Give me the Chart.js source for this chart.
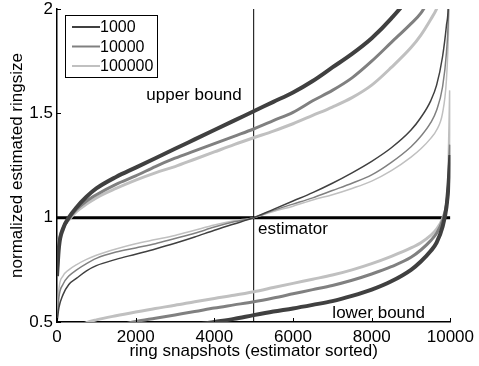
<!DOCTYPE html>
<html>
<head>
<meta charset="utf-8">
<script src="https://cdn.jsdelivr.net/npm/chart.js@4"></script>
<style>
  body { margin: 0; background: #fff; }
</style>
</head>
<body>
<canvas id="ringChart" width="479" height="366"></canvas>
<script>
// snapshot index (sorted by estimator) where each curve is sampled
const snapshots = [0, 50, 150, 300, 500, 750, 1000, 1500, 2000, 2500, 3000, 3500, 4000, 4500, 5000,
  5500, 6000, 6500, 7000, 7500, 8000, 8500, 9000, 9250, 9500, 9650, 9800, 9900, 9950, 10000];

const ringSizes = ['1000', '10000', '100000'];
const shades = ['#404040', '#808080', '#c0c0c0'];

// upper bound per ring size
const upper1000 = [0.72, 0.86, 0.945, 1.0, 1.05, 1.10, 1.14, 1.195, 1.24, 1.285, 1.33, 1.375, 1.42, 1.465, 1.51,
  1.555, 1.60, 1.655, 1.72, 1.785, 1.86, 1.955, 2.07, 2.15, 2.25, 2.35, 2.5, 2.6, 2.7, 2.8];
const upper10000 = [0.72, 0.87, 0.945, 0.995, 1.04, 1.08, 1.11, 1.16, 1.20, 1.245, 1.285, 1.32, 1.355, 1.39, 1.425,
  1.465, 1.505, 1.56, 1.61, 1.67, 1.75, 1.84, 1.93, 1.98, 2.06, 2.12, 2.25, 2.4, 2.6, 3.0];
const upper100000 = [0.74, 0.88, 0.95, 0.99, 1.03, 1.065, 1.095, 1.14, 1.18, 1.215, 1.245, 1.28, 1.315, 1.35, 1.383,
  1.415, 1.45, 1.49, 1.53, 1.575, 1.635, 1.72, 1.815, 1.875, 1.95, 2.0, 2.08, 2.2, 2.4, 2.8];

// estimator per ring size
const est1000 = [0.50, 0.57, 0.63, 0.68, 0.71, 0.745, 0.77, 0.80, 0.825, 0.85, 0.877, 0.907, 0.94, 0.97, 1.0,
  1.04, 1.08, 1.12, 1.165, 1.215, 1.27, 1.335, 1.42, 1.48, 1.56, 1.635, 1.77, 1.92, 2.03, 2.5];
const est10000 = [0.50, 0.62, 0.68, 0.72, 0.75, 0.78, 0.805, 0.835, 0.855, 0.875, 0.90, 0.925, 0.955, 0.98, 1.0,
  1.035, 1.065, 1.095, 1.13, 1.165, 1.205, 1.265, 1.34, 1.39, 1.455, 1.515, 1.625, 1.79, 1.97, 2.5];
const est100000 = [0.50, 0.66, 0.72, 0.75, 0.775, 0.80, 0.82, 0.85, 0.875, 0.895, 0.915, 0.94, 0.965, 0.985, 1.0,
  1.03, 1.055, 1.085, 1.11, 1.14, 1.175, 1.225, 1.29, 1.33, 1.38, 1.42, 1.5, 1.66, 1.88, 2.4];

// lower bound per ring size
const lower1000 = [0.2, 0.25, 0.3, 0.33, 0.35, 0.37, 0.385, 0.41, 0.43, 0.45, 0.465, 0.485, 0.50, 0.515, 0.533,
  0.55, 0.565, 0.582, 0.60, 0.625, 0.655, 0.695, 0.75, 0.79, 0.84, 0.88, 0.955, 1.05, 1.15, 1.3];
const lower10000 = [0.3, 0.33, 0.37, 0.4, 0.42, 0.44, 0.455, 0.48, 0.502, 0.518, 0.534, 0.55, 0.567, 0.582, 0.597,
  0.615, 0.635, 0.655, 0.675, 0.70, 0.73, 0.765, 0.81, 0.845, 0.89, 0.925, 0.985, 1.06, 1.15, 1.35];
const lower100000 = [0.35, 0.38, 0.42, 0.45, 0.475, 0.497, 0.51, 0.53, 0.548, 0.565, 0.58, 0.597, 0.613, 0.628, 0.645,
  0.665, 0.685, 0.705, 0.725, 0.75, 0.78, 0.815, 0.855, 0.88, 0.915, 0.945, 0.995, 1.06, 1.15, 1.61];

const xTicks = [0, 2000, 4000, 6000, 8000, 10000];
const yTicks = [0.5, 1, 1.5, 2];

const FONT = "'Liberation Sans', Arial, Helvetica, sans-serif";

const pts = ys => snapshots.map((x, i) => ({ x: x, y: ys[i] }));

function curve(ys, shade, width) {
  return {
    data: pts(ys),
    borderColor: shade,
    borderWidth: width,
    pointRadius: 0,
    cubicInterpolationMode: 'monotone',
    fill: false
  };
}

const datasets = [
  curve(upper1000, shades[0], 4), curve(upper10000, shades[1], 3), curve(upper100000, shades[2], 3),
  curve(est1000, shades[0], 1.5), curve(est10000, shades[1], 1.5), curve(est100000, shades[2], 1.5),
  curve(lower1000, shades[0], 4), curve(lower10000, shades[1], 3), curve(lower100000, shades[2], 3),
  // reference lines: estimator = 1 and the middle snapshot
  { data: [{ x: 0, y: 1 }, { x: 10000, y: 1 }], borderColor: '#000', borderWidth: 3, pointRadius: 0 },
  { data: [{ x: 5000, y: 0.5 }, { x: 5000, y: 2 }], borderColor: '#000', borderWidth: 1, pointRadius: 0 }
];

// text notes placed in data coordinates
const notes = [
  { text: 'upper bound', x: 2270, y: 1.588 },
  { text: 'estimator', x: 5110, y: 0.946 },
  { text: 'lower bound', x: 7000, y: 0.543 }
];

const decor = {
  id: 'decor',
  afterDraw(chart) {
    const ctx = chart.ctx;
    const { left, top, bottom } = chart.chartArea;
    const xs = chart.scales.x, ys = chart.scales.y;
    ctx.save();
    // inward tick marks
    ctx.strokeStyle = '#000';
    ctx.lineWidth = 1;
    ctx.beginPath();
    xTicks.forEach(v => {
      const px = Math.round(xs.getPixelForValue(v)) + 0.5;
      ctx.moveTo(px, bottom);
      ctx.lineTo(px, bottom - 4);
    });
    yTicks.forEach(v => {
      const py = Math.round(ys.getPixelForValue(v)) + 0.5;
      ctx.moveTo(left, py);
      ctx.lineTo(left + 4, py);
    });
    ctx.stroke();

    // notes
    ctx.fillStyle = '#000';
    ctx.font = '17px ' + FONT;
    ctx.textBaseline = 'middle';
    ctx.textAlign = 'left';
    notes.forEach(n => {
      ctx.fillText(n.text, xs.getPixelForValue(n.x), ys.getPixelForValue(n.y));
    });

    // legend box
    const bx = left + 8, by = top + 6, bw = 92, bh = 62;
    ctx.fillStyle = '#fff';
    ctx.fillRect(bx, by, bw, bh);
    ctx.strokeStyle = '#000';
    ctx.lineWidth = 1;
    ctx.strokeRect(bx + 0.5, by + 0.5, bw, bh);
    ctx.font = '16px ' + FONT;
    ringSizes.forEach((name, i) => {
      const ly = by + 12 + i * 19.5;
      ctx.strokeStyle = shades[i];
      ctx.lineWidth = 2;
      ctx.beginPath();
      ctx.moveTo(bx + 7, ly);
      ctx.lineTo(bx + 35, ly);
      ctx.stroke();
      ctx.fillStyle = '#000';
      ctx.fillText(name, bx + 35, ly + 1);
    });
    ctx.restore();
  }
};

new Chart(document.getElementById('ringChart').getContext('2d'), {
  type: 'line',
  data: { datasets: datasets },
  plugins: [decor],
  options: {
    responsive: false,
    animation: false,
    layout: { padding: { top: 9, right: 25, left: 0, bottom: 0 } },
    plugins: { legend: { display: false }, tooltip: { enabled: false } },
    scales: {
      x: {
        type: 'linear',
        min: 0,
        max: 10000,
        afterBuildTicks: s => { s.ticks = xTicks.map(v => ({ value: v })); },
        afterFit: s => { s.height = 44; s.paddingLeft = 0; },
        grid: { display: false, drawTicks: false },
        border: { display: true, color: '#000', width: 1.5 },
        ticks: { color: '#000', font: { family: FONT, size: 17 }, padding: 5, maxRotation: 0, callback: v => String(v) },
        title: { display: true, text: 'ring snapshots (estimator sorted)', color: '#000', font: { family: FONT, size: 17 }, padding: { top: 0, bottom: 4 } }
      },
      y: {
        min: 0.5,
        max: 2,
        afterBuildTicks: s => { s.ticks = yTicks.map(v => ({ value: v })); },
        afterFit: s => { s.width = 57; s.paddingTop = 0; s.paddingBottom = 0; },
        grid: { display: false, drawTicks: false },
        border: { display: true, color: '#000', width: 1.5 },
        ticks: { color: '#000', font: { family: FONT, size: 17 }, padding: 4, callback: v => String(v) },
        title: { display: true, text: 'normalized estimated ringsize', color: '#000', font: { family: FONT, size: 17 }, padding: { top: 7, bottom: 0 } }
      }
    }
  }
});
</script>
</body>
</html>
